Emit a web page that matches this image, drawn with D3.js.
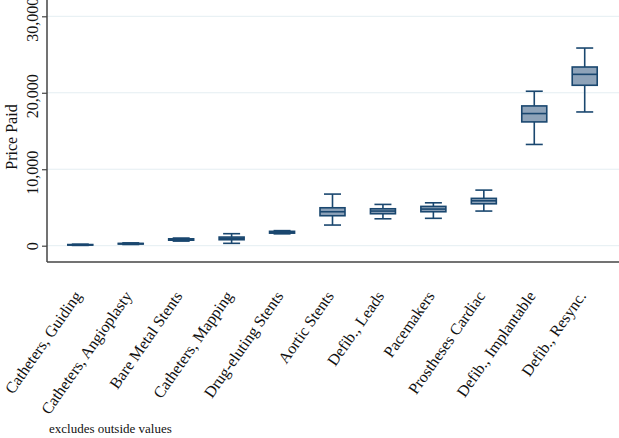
<!DOCTYPE html>
<html><head><meta charset="utf-8">
<script src="https://cdn.jsdelivr.net/npm/d3@7/dist/d3.min.js"></script>
<style>body{margin:0;background:#fff}svg{display:block}</style>
</head><body><svg id="c" width="619" height="438"></svg>
<script>
const categories = ["Catheters, Guiding","Catheters, Angioplasty","Bare Metal Stents","Catheters, Mapping","Drug-eluting Stents","Aortic Stents","Defib., Leads","Pacemakers","Prostheses Cardiac","Defib., Implantable","Defib., Resync."];
const whiskerLow  = [40, 160, 600, 310, 1550, 2700, 3520, 3580, 4530, 13240, 17490];
const q1          = [80, 220, 720, 780, 1640, 3920, 4180, 4440, 5480, 16190, 20980];
const median      = [110, 260, 820, 960, 1750, 4440, 4530, 4790, 5870, 17280, 22410];
const q3          = [150, 300, 900, 1130, 1880, 4960, 4830, 5140, 6190, 18280, 23370];
const whiskerHigh = [200, 370, 1000, 1570, 1970, 6750, 5400, 5610, 7270, 20200, 25850];
const yTicks = [0, 10000, 20000, 30000];
const yTitle = "Price Paid";
const note = "excludes outside values";

const svg = d3.select("#c");
const left = 47, right = 618, bottom = 262;
const x = d3.scalePoint().domain(categories).range([left, right]).padding(0.66);
const y = d3.scaleLinear().domain([0, 30000]).range([245.7, 16.3]);

const font = "'Liberation Serif','Times New Roman',serif";
const navy = "#1a476f";

// grid
svg.append("g").selectAll("line").data(yTicks).join("line")
  .attr("x1", left).attr("x2", 619)
  .attr("y1", d => y(d)).attr("y2", d => y(d))
  .attr("stroke", "#e4eef2").attr("stroke-width", 1);

// y axis
const yAxis = d3.axisLeft(y).tickValues(yTicks).tickSize(5).tickFormat(d3.format(","));
const ga = svg.append("g").attr("transform", `translate(${left},0)`).call(yAxis);
ga.select(".domain").remove();
ga.selectAll(".tick line").attr("stroke", "#444").attr("stroke-width", 1.2);
ga.selectAll(".tick text")
  .attr("font-family", font).attr("font-size", 16).attr("fill", "#111")
  .attr("text-anchor", "middle")
  .attr("transform", "translate(-9,0) rotate(-90)")
  .attr("x", d => d === 0 ? 0 : -3).attr("y", 0).attr("dy", 0);

// axis frame lines
svg.append("line").attr("x1", left).attr("x2", left).attr("y1", 0).attr("y2", bottom)
  .attr("stroke", "#444").attr("stroke-width", 1.5);
svg.append("line").attr("x1", left).attr("x2", 619).attr("y1", bottom).attr("y2", bottom)
  .attr("stroke", "#444").attr("stroke-width", 1.5);

// y title
svg.append("text").attr("transform", `translate(17,137) rotate(-90)`)
  .attr("text-anchor", "middle").attr("font-family", font).attr("font-size", 16)
  .attr("fill", "#111").text(yTitle);

// boxes
const boxW = 25, capW = 17;
const g = svg.append("g");
categories.forEach((c, i) => {
  const cx = x(c);
  const gg = g.append("g").attr("stroke", navy).attr("stroke-width", 1.6);
  gg.append("line").attr("x1", cx).attr("x2", cx).attr("y1", y(whiskerHigh[i])).attr("y2", y(q3[i]));
  gg.append("line").attr("x1", cx).attr("x2", cx).attr("y1", y(q1[i])).attr("y2", y(whiskerLow[i]));
  gg.append("line").attr("x1", cx - capW/2).attr("x2", cx + capW/2).attr("y1", y(whiskerHigh[i])).attr("y2", y(whiskerHigh[i]));
  gg.append("line").attr("x1", cx - capW/2).attr("x2", cx + capW/2).attr("y1", y(whiskerLow[i])).attr("y2", y(whiskerLow[i]));
  gg.append("rect").attr("x", cx - boxW/2).attr("width", boxW)
    .attr("y", y(q3[i])).attr("height", Math.max(0.5, y(q1[i]) - y(q3[i])))
    .attr("fill", "#8ea3b9");
  gg.append("line").attr("x1", cx - boxW/2).attr("x2", cx + boxW/2).attr("y1", y(median[i])).attr("y2", y(median[i]));
});

// x labels
svg.append("g").selectAll("text").data(categories).join("text")
  .attr("transform", d => `translate(${x(d)+2},${bottom + 34}) rotate(-55)`)
  .attr("text-anchor", "end").attr("font-family", font).attr("font-size", 16)
  .attr("fill", "#111").text(d => d);

svg.append("text").attr("x", 49).attr("y", 433).attr("font-family", font)
  .attr("font-size", 13).attr("fill", "#111").text(note);
</script></body></html>
